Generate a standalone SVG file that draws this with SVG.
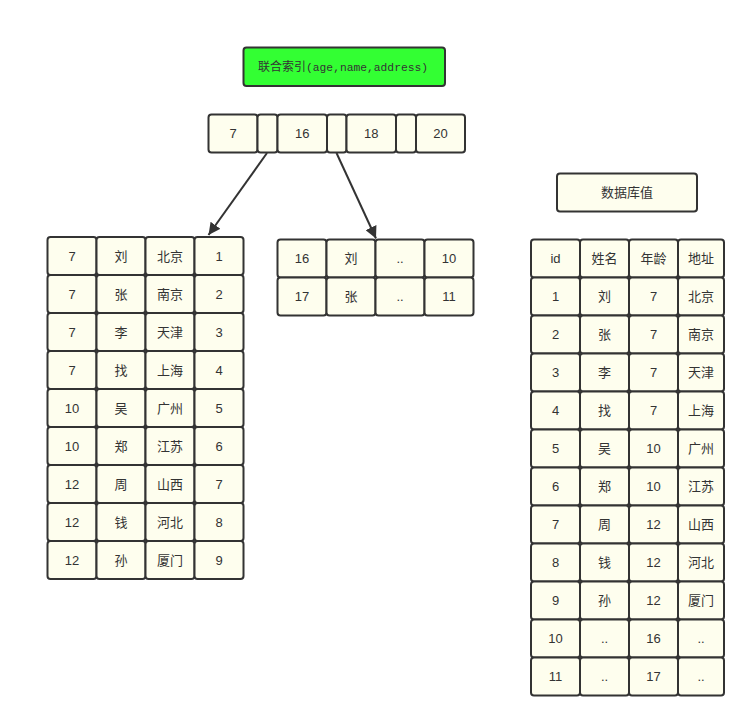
<svg xmlns="http://www.w3.org/2000/svg" width="755" height="728" viewBox="0 0 755 728">
<style>
.c{fill:#fefeee;stroke:#333;stroke-width:2}
.g{fill:#33ff33;stroke:#333;stroke-width:2}
.t{font-family:"Liberation Sans","Noto Sans CJK SC",sans-serif;font-size:13px;fill:#333;text-anchor:middle}
.m{font-family:"Noto Sans CJK SC",sans-serif;font-size:12px;fill:#333}
.a{stroke:#333;stroke-width:2;fill:none}
</style>
<defs>
<marker id="ah" markerWidth="12" markerHeight="12" refX="10" refY="5" orient="auto" markerUnits="userSpaceOnUse" viewBox="0 0 10 10">
<path d="M0,0 L10,5 L0,10 z" fill="#333"/>
</marker>
</defs>
<rect width="755" height="728" fill="#fff"/>
<g id="title">
<rect class="g" x="243.5" y="47.5" width="201.5" height="38.5" rx="3"/>
<text class="m" x="258" y="71"><tspan>联合索引</tspan><tspan font-family="Liberation Mono, monospace" font-size="11.3">(age,name,address)</tspan></text>
</g>
<g id="dblabel">
<rect class="c" x="557" y="173.5" width="140" height="38" rx="3"/>
<text class="t" x="627" y="197">数据库值</text>
</g>
<g id="root">
<g id="r0"><rect class="c" x="208.5" y="114.5" width="49" height="38" rx="3"/><text class="t" x="233" y="138">7</text></g>
<g id="r1"><rect class="c" x="257.5" y="114.5" width="20" height="38" rx="3"/></g>
<g id="r2"><rect class="c" x="277.5" y="114.5" width="49.5" height="38" rx="3"/><text class="t" x="302.2" y="138">16</text></g>
<g id="r3"><rect class="c" x="327" y="114.5" width="19.5" height="38" rx="3"/></g>
<g id="r4"><rect class="c" x="346.5" y="114.5" width="49.5" height="38" rx="3"/><text class="t" x="371.2" y="138">18</text></g>
<g id="r5"><rect class="c" x="396" y="114.5" width="20" height="38" rx="3"/></g>
<g id="r6"><rect class="c" x="416" y="114.5" width="49" height="38" rx="3"/><text class="t" x="440.5" y="138">20</text></g>
</g>
<g id="connectors">
<line class="a" x1="267" y1="153" x2="208.5" y2="235" marker-end="url(#ah)"/>
<line class="a" x1="336.5" y1="153" x2="376" y2="238.5" marker-end="url(#ah)"/>
</g>
<g id="leftTable">
<g id="L0">
<rect class="c" x="47.5" y="237" width="49" height="38" rx="3"/><text class="t" x="72" y="260.5">7</text>
<rect class="c" x="96.5" y="237" width="49" height="38" rx="3"/><text class="t" x="121" y="260.5">刘</text>
<rect class="c" x="145.5" y="237" width="49" height="38" rx="3"/><text class="t" x="170" y="260.5">北京</text>
<rect class="c" x="194.5" y="237" width="49" height="38" rx="3"/><text class="t" x="219" y="260.5">1</text>
</g>
<g id="L1">
<rect class="c" x="47.5" y="275" width="49" height="38" rx="3"/><text class="t" x="72" y="298.5">7</text>
<rect class="c" x="96.5" y="275" width="49" height="38" rx="3"/><text class="t" x="121" y="298.5">张</text>
<rect class="c" x="145.5" y="275" width="49" height="38" rx="3"/><text class="t" x="170" y="298.5">南京</text>
<rect class="c" x="194.5" y="275" width="49" height="38" rx="3"/><text class="t" x="219" y="298.5">2</text>
</g>
<g id="L2">
<rect class="c" x="47.5" y="313" width="49" height="38" rx="3"/><text class="t" x="72" y="336.5">7</text>
<rect class="c" x="96.5" y="313" width="49" height="38" rx="3"/><text class="t" x="121" y="336.5">李</text>
<rect class="c" x="145.5" y="313" width="49" height="38" rx="3"/><text class="t" x="170" y="336.5">天津</text>
<rect class="c" x="194.5" y="313" width="49" height="38" rx="3"/><text class="t" x="219" y="336.5">3</text>
</g>
<g id="L3">
<rect class="c" x="47.5" y="351" width="49" height="38" rx="3"/><text class="t" x="72" y="374.5">7</text>
<rect class="c" x="96.5" y="351" width="49" height="38" rx="3"/><text class="t" x="121" y="374.5">找</text>
<rect class="c" x="145.5" y="351" width="49" height="38" rx="3"/><text class="t" x="170" y="374.5">上海</text>
<rect class="c" x="194.5" y="351" width="49" height="38" rx="3"/><text class="t" x="219" y="374.5">4</text>
</g>
<g id="L4">
<rect class="c" x="47.5" y="389" width="49" height="38" rx="3"/><text class="t" x="72" y="412.5">10</text>
<rect class="c" x="96.5" y="389" width="49" height="38" rx="3"/><text class="t" x="121" y="412.5">吴</text>
<rect class="c" x="145.5" y="389" width="49" height="38" rx="3"/><text class="t" x="170" y="412.5">广州</text>
<rect class="c" x="194.5" y="389" width="49" height="38" rx="3"/><text class="t" x="219" y="412.5">5</text>
</g>
<g id="L5">
<rect class="c" x="47.5" y="427" width="49" height="38" rx="3"/><text class="t" x="72" y="450.5">10</text>
<rect class="c" x="96.5" y="427" width="49" height="38" rx="3"/><text class="t" x="121" y="450.5">郑</text>
<rect class="c" x="145.5" y="427" width="49" height="38" rx="3"/><text class="t" x="170" y="450.5">江苏</text>
<rect class="c" x="194.5" y="427" width="49" height="38" rx="3"/><text class="t" x="219" y="450.5">6</text>
</g>
<g id="L6">
<rect class="c" x="47.5" y="465" width="49" height="38" rx="3"/><text class="t" x="72" y="488.5">12</text>
<rect class="c" x="96.5" y="465" width="49" height="38" rx="3"/><text class="t" x="121" y="488.5">周</text>
<rect class="c" x="145.5" y="465" width="49" height="38" rx="3"/><text class="t" x="170" y="488.5">山西</text>
<rect class="c" x="194.5" y="465" width="49" height="38" rx="3"/><text class="t" x="219" y="488.5">7</text>
</g>
<g id="L7">
<rect class="c" x="47.5" y="503" width="49" height="38" rx="3"/><text class="t" x="72" y="526.5">12</text>
<rect class="c" x="96.5" y="503" width="49" height="38" rx="3"/><text class="t" x="121" y="526.5">钱</text>
<rect class="c" x="145.5" y="503" width="49" height="38" rx="3"/><text class="t" x="170" y="526.5">河北</text>
<rect class="c" x="194.5" y="503" width="49" height="38" rx="3"/><text class="t" x="219" y="526.5">8</text>
</g>
<g id="L8">
<rect class="c" x="47.5" y="541" width="49" height="38" rx="3"/><text class="t" x="72" y="564.5">12</text>
<rect class="c" x="96.5" y="541" width="49" height="38" rx="3"/><text class="t" x="121" y="564.5">孙</text>
<rect class="c" x="145.5" y="541" width="49" height="38" rx="3"/><text class="t" x="170" y="564.5">厦门</text>
<rect class="c" x="194.5" y="541" width="49" height="38" rx="3"/><text class="t" x="219" y="564.5">9</text>
</g>
</g>
<g id="midTable">
<g id="M0">
<rect class="c" x="277.5" y="239.5" width="49" height="38" rx="3"/><text class="t" x="302" y="263">16</text>
<rect class="c" x="326.5" y="239.5" width="49" height="38" rx="3"/><text class="t" x="351" y="263">刘</text>
<rect class="c" x="375.5" y="239.5" width="49" height="38" rx="3"/><text class="t" x="400" y="263">..</text>
<rect class="c" x="424.5" y="239.5" width="49" height="38" rx="3"/><text class="t" x="449" y="263">10</text>
</g>
<g id="M1">
<rect class="c" x="277.5" y="277.5" width="49" height="38" rx="3"/><text class="t" x="302" y="301">17</text>
<rect class="c" x="326.5" y="277.5" width="49" height="38" rx="3"/><text class="t" x="351" y="301">张</text>
<rect class="c" x="375.5" y="277.5" width="49" height="38" rx="3"/><text class="t" x="400" y="301">..</text>
<rect class="c" x="424.5" y="277.5" width="49" height="38" rx="3"/><text class="t" x="449" y="301">11</text>
</g>
</g>
<g id="dbTable">
<g id="D0">
<rect class="c" x="531" y="239.5" width="49" height="38" rx="3"/><text class="t" x="555.5" y="263">id</text>
<rect class="c" x="580" y="239.5" width="49" height="38" rx="3"/><text class="t" x="604.5" y="263">姓名</text>
<rect class="c" x="629" y="239.5" width="49" height="38" rx="3"/><text class="t" x="653.5" y="263">年龄</text>
<rect class="c" x="678" y="239.5" width="46" height="38" rx="3"/><text class="t" x="701" y="263">地址</text>
</g>
<g id="D1">
<rect class="c" x="531" y="277.5" width="49" height="38" rx="3"/><text class="t" x="555.5" y="301">1</text>
<rect class="c" x="580" y="277.5" width="49" height="38" rx="3"/><text class="t" x="604.5" y="301">刘</text>
<rect class="c" x="629" y="277.5" width="49" height="38" rx="3"/><text class="t" x="653.5" y="301">7</text>
<rect class="c" x="678" y="277.5" width="46" height="38" rx="3"/><text class="t" x="701" y="301">北京</text>
</g>
<g id="D2">
<rect class="c" x="531" y="315.5" width="49" height="38" rx="3"/><text class="t" x="555.5" y="339">2</text>
<rect class="c" x="580" y="315.5" width="49" height="38" rx="3"/><text class="t" x="604.5" y="339">张</text>
<rect class="c" x="629" y="315.5" width="49" height="38" rx="3"/><text class="t" x="653.5" y="339">7</text>
<rect class="c" x="678" y="315.5" width="46" height="38" rx="3"/><text class="t" x="701" y="339">南京</text>
</g>
<g id="D3">
<rect class="c" x="531" y="353.5" width="49" height="38" rx="3"/><text class="t" x="555.5" y="377">3</text>
<rect class="c" x="580" y="353.5" width="49" height="38" rx="3"/><text class="t" x="604.5" y="377">李</text>
<rect class="c" x="629" y="353.5" width="49" height="38" rx="3"/><text class="t" x="653.5" y="377">7</text>
<rect class="c" x="678" y="353.5" width="46" height="38" rx="3"/><text class="t" x="701" y="377">天津</text>
</g>
<g id="D4">
<rect class="c" x="531" y="391.5" width="49" height="38" rx="3"/><text class="t" x="555.5" y="415">4</text>
<rect class="c" x="580" y="391.5" width="49" height="38" rx="3"/><text class="t" x="604.5" y="415">找</text>
<rect class="c" x="629" y="391.5" width="49" height="38" rx="3"/><text class="t" x="653.5" y="415">7</text>
<rect class="c" x="678" y="391.5" width="46" height="38" rx="3"/><text class="t" x="701" y="415">上海</text>
</g>
<g id="D5">
<rect class="c" x="531" y="429.5" width="49" height="38" rx="3"/><text class="t" x="555.5" y="453">5</text>
<rect class="c" x="580" y="429.5" width="49" height="38" rx="3"/><text class="t" x="604.5" y="453">吴</text>
<rect class="c" x="629" y="429.5" width="49" height="38" rx="3"/><text class="t" x="653.5" y="453">10</text>
<rect class="c" x="678" y="429.5" width="46" height="38" rx="3"/><text class="t" x="701" y="453">广州</text>
</g>
<g id="D6">
<rect class="c" x="531" y="467.5" width="49" height="38" rx="3"/><text class="t" x="555.5" y="491">6</text>
<rect class="c" x="580" y="467.5" width="49" height="38" rx="3"/><text class="t" x="604.5" y="491">郑</text>
<rect class="c" x="629" y="467.5" width="49" height="38" rx="3"/><text class="t" x="653.5" y="491">10</text>
<rect class="c" x="678" y="467.5" width="46" height="38" rx="3"/><text class="t" x="701" y="491">江苏</text>
</g>
<g id="D7">
<rect class="c" x="531" y="505.5" width="49" height="38" rx="3"/><text class="t" x="555.5" y="529">7</text>
<rect class="c" x="580" y="505.5" width="49" height="38" rx="3"/><text class="t" x="604.5" y="529">周</text>
<rect class="c" x="629" y="505.5" width="49" height="38" rx="3"/><text class="t" x="653.5" y="529">12</text>
<rect class="c" x="678" y="505.5" width="46" height="38" rx="3"/><text class="t" x="701" y="529">山西</text>
</g>
<g id="D8">
<rect class="c" x="531" y="543.5" width="49" height="38" rx="3"/><text class="t" x="555.5" y="567">8</text>
<rect class="c" x="580" y="543.5" width="49" height="38" rx="3"/><text class="t" x="604.5" y="567">钱</text>
<rect class="c" x="629" y="543.5" width="49" height="38" rx="3"/><text class="t" x="653.5" y="567">12</text>
<rect class="c" x="678" y="543.5" width="46" height="38" rx="3"/><text class="t" x="701" y="567">河北</text>
</g>
<g id="D9">
<rect class="c" x="531" y="581.5" width="49" height="38" rx="3"/><text class="t" x="555.5" y="605">9</text>
<rect class="c" x="580" y="581.5" width="49" height="38" rx="3"/><text class="t" x="604.5" y="605">孙</text>
<rect class="c" x="629" y="581.5" width="49" height="38" rx="3"/><text class="t" x="653.5" y="605">12</text>
<rect class="c" x="678" y="581.5" width="46" height="38" rx="3"/><text class="t" x="701" y="605">厦门</text>
</g>
<g id="D10">
<rect class="c" x="531" y="619.5" width="49" height="38" rx="3"/><text class="t" x="555.5" y="643">10</text>
<rect class="c" x="580" y="619.5" width="49" height="38" rx="3"/><text class="t" x="604.5" y="643">..</text>
<rect class="c" x="629" y="619.5" width="49" height="38" rx="3"/><text class="t" x="653.5" y="643">16</text>
<rect class="c" x="678" y="619.5" width="46" height="38" rx="3"/><text class="t" x="701" y="643">..</text>
</g>
<g id="D11">
<rect class="c" x="531" y="657.5" width="49" height="38" rx="3"/><text class="t" x="555.5" y="681">11</text>
<rect class="c" x="580" y="657.5" width="49" height="38" rx="3"/><text class="t" x="604.5" y="681">..</text>
<rect class="c" x="629" y="657.5" width="49" height="38" rx="3"/><text class="t" x="653.5" y="681">17</text>
<rect class="c" x="678" y="657.5" width="46" height="38" rx="3"/><text class="t" x="701" y="681">..</text>
</g>
</g>
</svg>
